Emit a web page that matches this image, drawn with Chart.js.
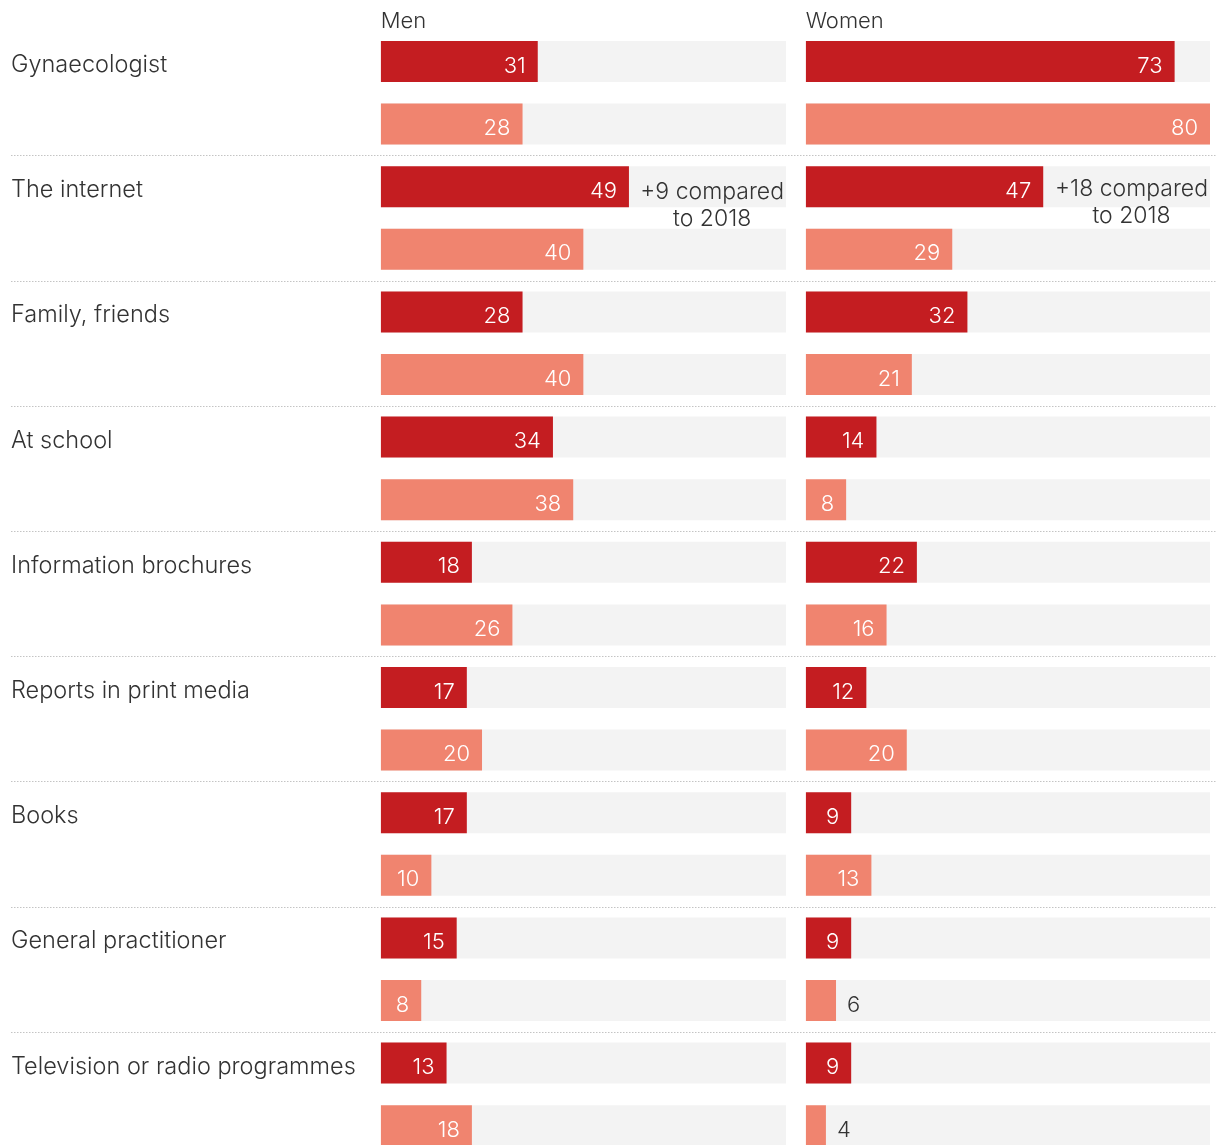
<!DOCTYPE html>
<html>
<head>
<meta charset="utf-8">
<script src="https://cdn.jsdelivr.net/npm/chart.js@4.4.1/dist/chart.umd.min.js"></script>
<style>
  html, body { margin: 0; padding: 0; background: #fff; overflow: hidden; }
  #wrap { position: relative; width: 1220px; height: 1145px; overflow: hidden; }
  canvas { position: absolute; top: 0; }
  #menChart { left: 0; }
  #womenChart { left: 800px; }
</style>
</head>
<body>
<div id="wrap">
  <canvas id="menChart" width="800" height="1160"></canvas>
  <canvas id="womenChart" width="420" height="1160"></canvas>
</div>
<script>
var categories = ['Gynaecologist', 'The internet', 'Family, friends', 'At school',
  'Information brochures', 'Reports in print media', 'Books',
  'General practitioner', 'Television or radio programmes'];

// share in %, latest survey (dark) and 2018 (light)
var menLatest = [31, 49, 28, 34, 18, 17, 17, 15, 13];
var men2018 = [28, 40, 40, 38, 26, 20, 10, 8, 18];
var womenLatest = [73, 47, 32, 14, 22, 12, 9, 9, 9];
var women2018 = [80, 29, 21, 8, 16, 20, 13, 6, 4];

var axisMax = 80;
var noteCategory = 1; // "The internet"

var DARK = '#c41d21';
var LIGHT = '#f0846f';
var TRACK = '#f3f3f3';
var TEXT = '#333333';
var FONT = 'Inter, Lato, sans-serif';

Chart.defaults.font.family = FONT;
Chart.defaults.font.weight = 300;
Chart.defaults.color = TEXT;

// two bar rows per category: latest on top, 2018 below
function rowsOf(latest, previous) {
  var out = [];
  for (var i = 0; i < latest.length; i++) out.push(latest[i], previous[i]);
  return out;
}
var rowLabels = [];
categories.forEach(function (c) { rowLabels.push(c, ''); });

var panelDecor = {
  id: 'panelDecor',
  afterDraw: function (chart, args, opts) {
    var ctx = chart.ctx;
    var ys = chart.scales.y;
    var area = chart.chartArea;
    var vals = chart.data.datasets[1].data;
    var bars = chart.getDatasetMeta(1).data;
    ctx.save();

    // dotted separators between categories
    ctx.strokeStyle = '#c4c4c4';
    ctx.lineWidth = 1;
    ctx.setLineDash([1.5, 1.5]);
    for (var k = 1; k < categories.length; k++) {
      var sy = Math.round((ys.getPixelForTick(2 * k - 1) + ys.getPixelForTick(2 * k)) / 2) + 0.5;
      ctx.beginPath();
      ctx.moveTo(opts.lineFrom, sy);
      ctx.lineTo(opts.lineTo, sy);
      ctx.stroke();
    }
    ctx.setLineDash([]);

    // value labels
    ctx.font = '300 22px ' + FONT;
    ctx.textBaseline = 'alphabetic';
    bars.forEach(function (bar, i) {
      var v = vals[i];
      if (v >= 8) {
        ctx.fillStyle = '#ffffff';
        ctx.textAlign = 'right';
        ctx.fillText(String(v), bar.x - 12, bar.y + 11);
      } else {
        ctx.fillStyle = TEXT;
        ctx.textAlign = 'left';
        ctx.fillText(String(v), bar.x + 11, bar.y + 11);
      }
    });

    // change versus 2018 next to the internet bar
    var diff = vals[noteCategory * 2] - vals[noteCategory * 2 + 1];
    var line1 = (diff > 0 ? '+' : '') + diff + ' compared';
    var line2 = 'to 2018';
    var nb = bars[noteCategory * 2];
    ctx.fillStyle = TEXT;
    ctx.font = '300 23px ' + FONT;
    var w1 = ctx.measureText(line1).width;
    var cx = area.right - 2 - w1 / 2;
    ctx.textAlign = 'center';
    ctx.fillText(line1, cx, nb.y + 12 + opts.noteDy);
    ctx.fillText(line2, cx, nb.y + 39 + opts.noteDy);
    ctx.restore();
  }
};

function makePanel(id, title, latest, previous, decor, withLabels, padding) {
  var values = rowsOf(latest, previous);
  var colors = values.map(function (v, i) { return i % 2 === 0 ? DARK : LIGHT; });
  var yAxis = {
    display: withLabels,
    grid: { display: false },
    border: { display: false },
    ticks: {
      autoSkip: false,
      crossAlign: 'far',
      labelOffset: 3.5,
      color: TEXT,
      font: { size: 23.5, weight: 300 }
    }
  };
  if (withLabels) {
    yAxis.afterFit = function (scale) {
      scale.width = 369.7;
      scale.paddingTop = 0;
      scale.paddingBottom = 0;
    };
  }
  return new Chart(document.getElementById(id), {
    type: 'bar',
    data: {
      labels: rowLabels,
      datasets: [
        {
          label: 'track',
          data: values.map(function () { return axisMax; }),
          backgroundColor: TRACK,
          grouped: false,
          order: 2
        },
        {
          label: title,
          data: values,
          backgroundColor: colors,
          grouped: false,
          order: 1
        }
      ]
    },
    options: {
      indexAxis: 'y',
      responsive: false,
      devicePixelRatio: 1,
      animation: false,
      events: [],
      barPercentage: 0.655,
      categoryPercentage: 1,
      layout: { padding: padding },
      plugins: {
        legend: { display: false },
        tooltip: { enabled: false },
        panelDecor: decor
      },
      scales: {
        x: {
          position: 'top',
          min: 0,
          max: axisMax,
          grid: { display: false },
          border: { display: false },
          ticks: { display: false },
          title: {
            display: true,
            text: title,
            align: 'start',
            color: TEXT,
            font: { size: 22, weight: 300 },
            padding: { top: 8, bottom: 0 }
          },
          afterFit: function (scale) { scale.height = 30.2; }
        },
        y: yAxis
      }
    },
    plugins: [panelDecor]
  });
}

makePanel('menChart', 'Men', menLatest, men2018,
  { lineFrom: 11, lineTo: 800, noteDy: 0 }, true,
  { left: 11, right: 14, top: 0, bottom: 3 });

makePanel('womenChart', 'Women', womenLatest, women2018,
  { lineFrom: 0, lineTo: 417, noteDy: -3 }, false,
  { left: 5.7, right: 10, top: 0, bottom: 3 });
</script>
</body>
</html>
